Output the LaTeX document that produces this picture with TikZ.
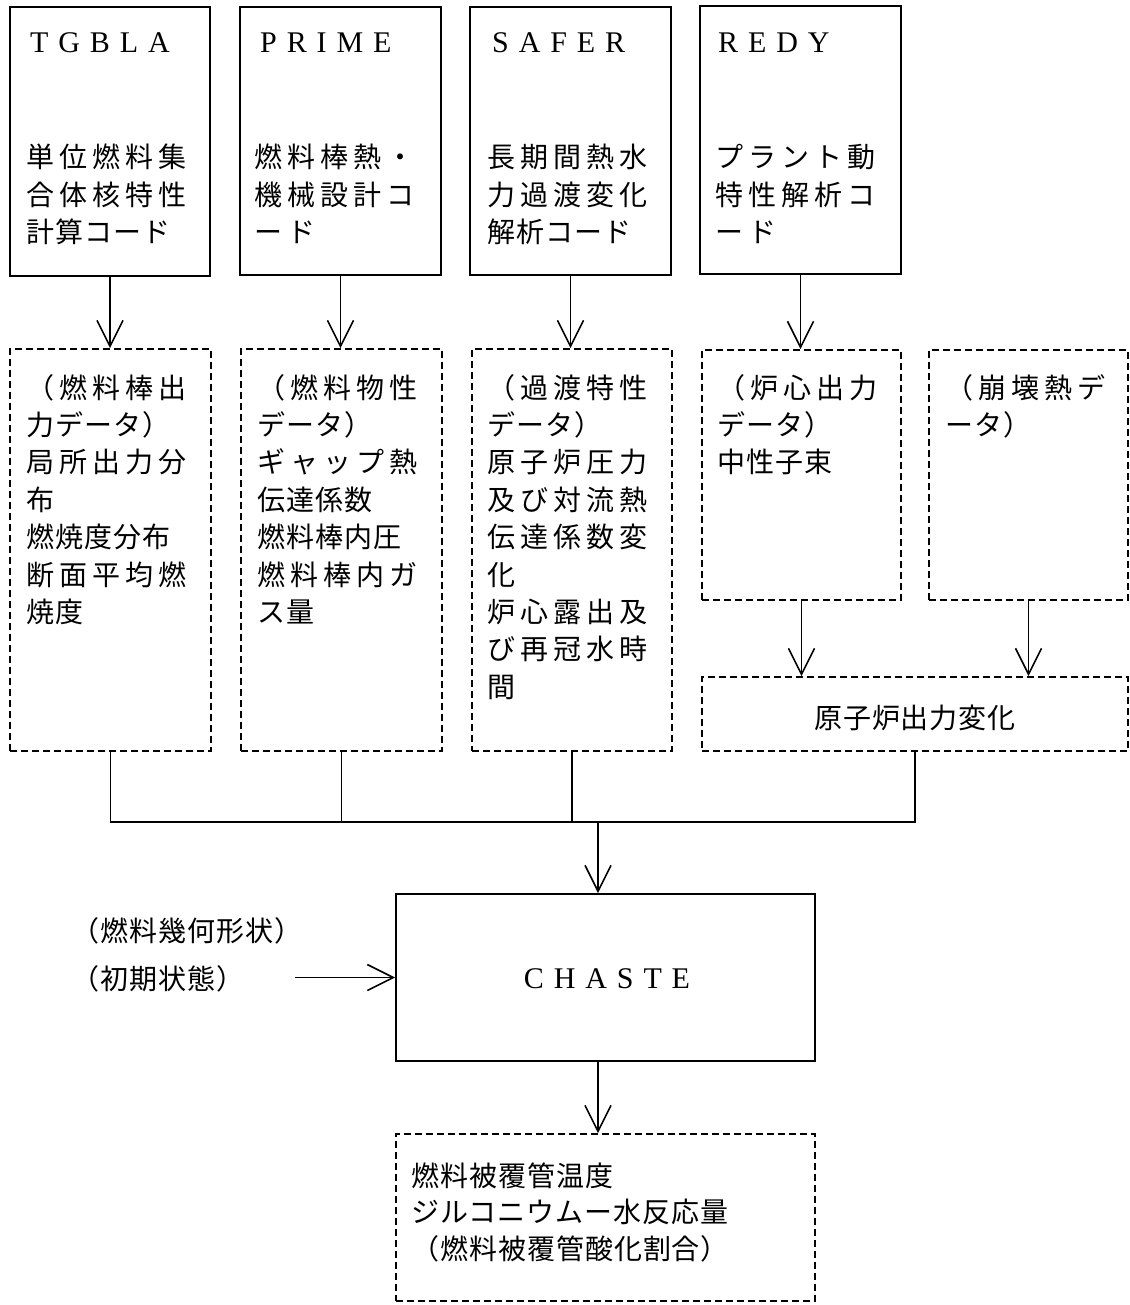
\documentclass[tikz,border=0pt]{standalone}
\usepackage{fontspec}
\usetikzlibrary{arrows.meta}
\newfontfamily\jp[LetterSpace=3.5]{Noto Sans CJK JP}
\newfontfamily\jpw[LetterSpace=18]{Noto Sans CJK JP}
\newfontfamily\lat[LetterSpace=33]{Liberation Serif}
\begin{document}
\begin{tikzpicture}[x=1pt,y=-1pt,
  solidbox/.style={draw, line width=1.9pt, inner sep=0pt},
  dashbox/.style={draw, line width=1.8pt, inner sep=0pt, dash pattern=on 7pt off 4pt},
  conn/.style={line width=1.6pt},
  arr/.style={line width=1.6pt, -{Straight Barb[length=26pt,width=26pt]}},
  txt/.style={anchor=base west, inner sep=0pt, align=left, font=\jp\fontsize{28}{37.4}\selectfont},
  ctxt/.style={anchor=base, inner sep=0pt, font=\jp\fontsize{28}{37.4}\selectfont},
  code/.style={anchor=base west, inner sep=0pt, font=\lat\fontsize{30}{36}\selectfont}
]
\useasboundingbox (0,0) rectangle (1129,1305);

% top code boxes
\node[solidbox, minimum width=200pt, minimum height=269pt] (tg) at (110,141.5) {};
\node[solidbox, minimum width=201pt, minimum height=268pt] (pr) at (340.5,141) {};
\node[solidbox, minimum width=201pt, minimum height=268pt] (sa) at (570.5,141) {};
\node[solidbox, minimum width=201pt, minimum height=268pt] (re) at (800.5,140) {};

\node[code] (tgc) at (30,53) {TGBLA};
\node[code] (prc) at (260,53) {PRIME};
\node[code] (sac) at (492,53) {SAFER};
\node[code] (rec) at (718,53) {REDY};

% (base anchor of a multi-line node = baseline of its last line)
\node[txt] (tgt) at (26,242.8) {{\jpw 単位燃料集}\\{\jpw 合体核特性}\\{\jp 計算コード}};
\node[txt] (prt) at (254,242.8) {{\jpw 燃料棒熱・}\\{\jpw 機械設計コ}\\{\jpw ード}};
\node[txt] (sat) at (487,242.8) {{\jpw 長期間熱水}\\{\jpw 力過渡変化}\\{\jp 解析コード}};
\node[txt] (ret) at (715,242.8) {{\jpw プラント動}\\{\jpw 特性解析コ}\\{\jpw ード}};

% data boxes
\node[dashbox, minimum width=201pt, minimum height=402pt] (d1) at (110.5,550) {};
\node[dashbox, minimum width=201pt, minimum height=402pt] (d2) at (341.5,550) {};
\node[dashbox, minimum width=200pt, minimum height=402pt] (d3) at (572,550) {};
\node[dashbox, minimum width=199pt, minimum height=250pt] (d4) at (801.5,475) {};
\node[dashbox, minimum width=199pt, minimum height=250pt] (d5) at (1028.5,475) {};
\node[dashbox, minimum width=426pt, minimum height=74pt] (d6) at (915,714) {};

\node[txt] (d1t) at (26,622.4) {{\jpw （燃料棒出}\\{\jp 力データ）}\\{\jpw 局所出力分}\\{\jp 布}\\{\jp 燃焼度分布}\\{\jpw 断面平均燃}\\{\jp 焼度}};
\node[txt] (d2t) at (257,622.4) {{\jpw （燃料物性}\\{\jp データ）}\\{\jpw ギャップ熱}\\{\jp 伝達係数}\\{\jp 燃料棒内圧}\\{\jpw 燃料棒内ガ}\\{\jp ス量}};
\node[txt] (d3t) at (487,697.2) {{\jpw （過渡特性}\\{\jp データ）}\\{\jpw 原子炉圧力}\\{\jpw 及び対流熱}\\{\jpw 伝達係数変}\\{\jp 化}\\{\jpw 炉心露出及}\\{\jpw び再冠水時}\\{\jp 間}};
\node[txt] (d4t) at (717,472.8) {{\jpw （炉心出力}\\{\jp データ）}\\{\jp 中性子束}};
\node[txt] (d5t) at (945,435.4) {{\jpw （崩壊熱デ}\\{\jp ータ）}};
\node[ctxt] (d6t) at (915,728) {原子炉出力変化};

% CHASTE
\node[solidbox, minimum width=419pt, minimum height=167pt] (ch) at (605.5,977.5) {};
\node[anchor=base, inner sep=0pt, font=\lat\fontsize{30}{36}\selectfont] (cht) at (607,988) {CHASTE};
\node[txt] (geo) at (71,941) {（燃料幾何形状）};
\node[txt] (ini) at (71,989) {（初期状態）};
\coordinate (inp) at (295,977.5);

% output
\node[dashbox, minimum width=419pt, minimum height=167pt] (out) at (605.5,1217.5) {};
\node[txt, font=\jp\fontsize{28}{36.5}\selectfont] (outt) at (411,1259) {燃料被覆管温度\\ジルコニウムー水反応量\\（燃料被覆管酸化割合）};

% connectors
\draw[arr] (tg.south) -- (tg.south |- d1.north);
\draw[arr] (pr.south) -- (pr.south |- d2.north);
\draw[arr] (sa.south) -- (sa.south |- d3.north);
\draw[arr] (re.south) -- (re.south |- d4.north);
\draw[arr] (d4.south) -- (d4.south |- d6.north);
\draw[arr] (d5.south) -- (d5.south |- d6.north);

\coordinate (bus) at (598,822);
\draw[conn] (d1.south) -- (d1.south |- bus) -- (d6.south |- bus) -- (d6.south);
\draw[conn] (d2.south) -- (d2.south |- bus);
\draw[conn] (d3.south) -- (d3.south |- bus);
\draw[arr] (bus) -- (bus |- ch.north);
\draw[arr] (inp) -- (ch.west);
\draw[arr] (bus |- ch.south) -- (bus |- out.north);
\end{tikzpicture}
\end{document}
